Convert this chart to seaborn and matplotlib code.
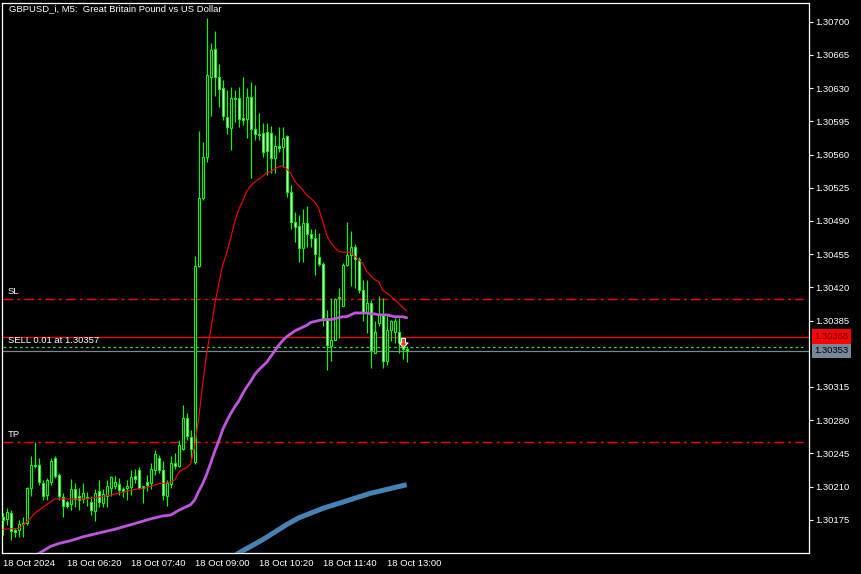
import numpy as np
import pandas as pd
import matplotlib
matplotlib.use("Agg")
import matplotlib.pyplot as plt
from matplotlib.path import Path
import seaborn as sns

# ---------------- data ----------------
opens = [1.30178, 1.30176, 1.30182, 1.30164, 1.30164, 1.30171, 1.30172, 1.30209, 1.30232, 1.30233,
         1.30214, 1.30201, 1.30215, 1.30240, 1.30222, 1.30199, 1.30194, 1.30192, 1.30207, 1.30200,
         1.30197, 1.30199, 1.30194, 1.30184, 1.30205, 1.30193, 1.30200, 1.30209, 1.30211, 1.30213,
         1.30207, 1.30208, 1.30210, 1.30221, 1.30228, 1.30211, 1.30215, 1.30214, 1.30228, 1.30240,
         1.30228, 1.30200, 1.30213, 1.30235, 1.30232, 1.30250, 1.30282, 1.30262, 1.30236, 1.30442,
         1.30514, 1.30557, 1.30642, 1.30671, 1.30642, 1.30630, 1.30600, 1.30588, 1.30620, 1.30620,
         1.30599, 1.30597, 1.30621, 1.30587, 1.30582, 1.30583, 1.30584, 1.30583, 1.30556, 1.30569,
         1.30568, 1.30579, 1.30520, 1.30489, 1.30485, 1.30461, 1.30488, 1.30476, 1.30472, 1.30452,
         1.30445, 1.30388, 1.30358, 1.30365, 1.30409, 1.30400, 1.30444, 1.30454, 1.30462, 1.30450,
         1.30417, 1.30393, 1.30404, 1.30351, 1.30382, 1.30391, 1.30342, 1.30375, 1.30373, 1.30373,
         1.30358, 1.30355]
highs = [1.30182, 1.30187, 1.30185, 1.30166, 1.30175, 1.30178, 1.30210, 1.30242, 1.30257, 1.30240,
         1.30217, 1.30219, 1.30240, 1.30242, 1.30224, 1.30203, 1.30196, 1.30218, 1.30214, 1.30208,
         1.30214, 1.30204, 1.30200, 1.30207, 1.30217, 1.30207, 1.30217, 1.30221, 1.30221, 1.30219,
         1.30210, 1.30217, 1.30228, 1.30229, 1.30231, 1.30211, 1.30222, 1.30235, 1.30249, 1.30243,
         1.30237, 1.30217, 1.30242, 1.30245, 1.30259, 1.30296, 1.30288, 1.30270, 1.30453, 1.30585,
         1.30573, 1.30704, 1.30678, 1.30690, 1.30655, 1.30639, 1.30628, 1.30631, 1.30628, 1.30631,
         1.30642, 1.30630, 1.30636, 1.30633, 1.30604, 1.30593, 1.30593, 1.30590, 1.30581, 1.30589,
         1.30589, 1.30581, 1.30528, 1.30499, 1.30496, 1.30503, 1.30506, 1.30481, 1.30481, 1.30477,
         1.30447, 1.30396, 1.30409, 1.30409, 1.30419, 1.30446, 1.30489, 1.30479, 1.30466, 1.30452,
         1.30428, 1.30428, 1.30407, 1.30384, 1.30411, 1.30409, 1.30391, 1.30386, 1.30388, 1.30388,
         1.30368, 1.30358]
lows = [1.30159, 1.30170, 1.30154, 1.30157, 1.30157, 1.30157, 1.30170, 1.30200, 1.30230, 1.30212,
        1.30196, 1.30196, 1.30212, 1.30219, 1.30196, 1.30178, 1.30187, 1.30185, 1.30189, 1.30185,
        1.30193, 1.30190, 1.30180, 1.30174, 1.30189, 1.30189, 1.30189, 1.30200, 1.30207, 1.30201,
        1.30199, 1.30196, 1.30201, 1.30214, 1.30207, 1.30193, 1.30205, 1.30207, 1.30222, 1.30224,
        1.30196, 1.30190, 1.30208, 1.30229, 1.30231, 1.30249, 1.30259, 1.30240, 1.30234, 1.30441,
        1.30512, 1.30552, 1.30601, 1.30622, 1.30610, 1.30596, 1.30582, 1.30565, 1.30594, 1.30589,
        1.30591, 1.30577, 1.30535, 1.30575, 1.30575, 1.30557, 1.30538, 1.30541, 1.30541, 1.30563,
        1.30547, 1.30515, 1.30481, 1.30468, 1.30447, 1.30447, 1.30463, 1.30463, 1.30433, 1.30442,
        1.30379, 1.30333, 1.30342, 1.30365, 1.30367, 1.30400, 1.30442, 1.30421, 1.30419, 1.30414,
        1.30384, 1.30372, 1.30335, 1.30351, 1.30379, 1.30335, 1.30338, 1.30363, 1.30361, 1.30351,
        1.30344, 1.30341]
closes = [1.30175, 1.30183, 1.30163, 1.30162, 1.30171, 1.30172, 1.30208, 1.30233, 1.30233, 1.30215,
          1.30200, 1.30217, 1.30237, 1.30221, 1.30200, 1.30190, 1.30190, 1.30207, 1.30197, 1.30196,
          1.30203, 1.30198, 1.30185, 1.30203, 1.30194, 1.30202, 1.30211, 1.30220, 1.30215, 1.30206,
          1.30205, 1.30211, 1.30220, 1.30218, 1.30209, 1.30209, 1.30212, 1.30229, 1.30244, 1.30228,
          1.30201, 1.30214, 1.30235, 1.30232, 1.30254, 1.30282, 1.30263, 1.30250, 1.30442, 1.30514,
          1.30557, 1.30644, 1.30670, 1.30642, 1.30629, 1.30601, 1.30589, 1.30620, 1.30619, 1.30597,
          1.30596, 1.30621, 1.30587, 1.30582, 1.30581, 1.30563, 1.30564, 1.30556, 1.30569, 1.30567,
          1.30577, 1.30520, 1.30489, 1.30484, 1.30461, 1.30488, 1.30476, 1.30472, 1.30455, 1.30445,
          1.30388, 1.30359, 1.30365, 1.30408, 1.30410, 1.30444, 1.30454, 1.30462, 1.30450, 1.30417,
          1.30393, 1.30403, 1.30354, 1.30373, 1.30391, 1.30342, 1.30375, 1.30384, 1.30384, 1.30362,
          1.30355, 1.30353]

# moving average (thin red) read at bar indices
ma_red_bar = [0, 4, 5, 7, 8, 10, 12, 13, 16, 21, 24, 27, 30, 33, 36, 39, 41, 42, 43, 44, 45, 46, 47,
              48, 49, 50, 51, 52, 53, 54, 55, 56, 57, 58, 59, 60, 61, 62, 63, 64, 65, 66, 67, 68, 69,
              70, 71, 72, 73, 74, 75, 76, 77, 78, 79, 80, 81, 82, 83, 84, 85, 86, 87, 88, 89, 90, 91,
              92, 93, 94, 95, 96, 97, 98, 99, 100, 101]
ma_red_val = [1.30165, 1.30166, 1.30169, 1.30177, 1.30182, 1.30188, 1.30194, 1.30197, 1.30197, 1.30197,
              1.30199, 1.30201, 1.30204, 1.30207, 1.30209, 1.30213, 1.30214, 1.30215, 1.30217, 1.30225,
              1.30228, 1.30230, 1.30234, 1.30253, 1.30282, 1.30318, 1.30351, 1.30375, 1.30402, 1.30423,
              1.30444, 1.30456, 1.30472, 1.30489, 1.30502, 1.30511, 1.30521, 1.30527, 1.30531, 1.30534,
              1.30537, 1.30541, 1.30542, 1.30545, 1.30547, 1.30548, 1.30545, 1.30540, 1.30532, 1.30527,
              1.30523, 1.30517, 1.30514, 1.30510, 1.30503, 1.30490, 1.30475, 1.30467, 1.30462, 1.30458,
              1.30457, 1.30457, 1.30457, 1.30453, 1.30449, 1.30445, 1.30437, 1.30432, 1.30428, 1.30426,
              1.30417, 1.30414, 1.30411, 1.30407, 1.30403, 1.30399, 1.30395]

# moving average (violet)
ma_violet_bar = [8, 12, 14, 17, 20, 24, 28, 33, 37, 40, 42, 44, 47, 48, 49, 50, 51, 52, 53, 54, 55, 56,
                 57, 58, 59, 60, 61, 62, 63, 64, 65, 66, 67, 68, 69, 70, 71, 72, 73, 74, 75, 76, 77, 78,
                 79, 80, 81, 82, 83, 84, 85, 86, 87, 88, 89, 90, 91, 92, 93, 94, 95, 96, 97, 98, 99, 100, 101]
ma_violet_val = [1.30137, 1.30147, 1.30150, 1.30153, 1.30157, 1.30161, 1.30165, 1.30171, 1.30176, 1.30179,
                 1.30180, 1.30185, 1.30191, 1.30196, 1.30205, 1.30213, 1.30223, 1.30235, 1.30247, 1.30258,
                 1.30270, 1.30279, 1.30287, 1.30294, 1.30300, 1.30308, 1.30315, 1.30321, 1.30328, 1.30333,
                 1.30337, 1.30341, 1.30347, 1.30353, 1.30359, 1.30364, 1.30368, 1.30371, 1.30374, 1.30376,
                 1.30378, 1.30380, 1.30383, 1.30384, 1.30385, 1.30386, 1.30386, 1.30386, 1.30387, 1.30388,
                 1.30389, 1.30389, 1.30391, 1.30393, 1.30393, 1.30393, 1.30393, 1.30392, 1.30392, 1.30391,
                 1.30391, 1.30391, 1.30390, 1.30389, 1.30389, 1.30389, 1.30388]

# moving average (thick blue)
ma_blue_bar = [58, 59, 62, 65, 68, 71, 74, 77, 80, 83, 86, 89, 92, 95, 98, 101]
ma_blue_val = [1.30137, 1.30140, 1.30147, 1.30154, 1.30162, 1.30170, 1.30177, 1.30182, 1.30187, 1.30191,
               1.30195, 1.30199, 1.30203, 1.30206, 1.30209, 1.30212]

sl_price = 1.30408
tp_price = 1.30257
open_price = 1.30357
ask_price = 1.30368
bid_price = 1.30353
entry_bar = 100

y_ticks = [1.30175, 1.30210, 1.30245, 1.30280, 1.30315, 1.30385, 1.30420, 1.30455, 1.30490,
           1.30525, 1.30560, 1.30595, 1.30630, 1.30665, 1.30700]
x_tick_bars = [0, 16, 32, 48, 64, 80, 96]
x_tick_labels = ["18 Oct 2024", "18 Oct 06:20", "18 Oct 07:40", "18 Oct 09:00",
                 "18 Oct 10:20", "18 Oct 11:40", "18 Oct 13:00"]
title = "GBPUSD_i, M5:  Great Britain Pound vs US Dollar"

# ---------------- style ----------------
sns.set_style("dark", rc={"axes.facecolor": "black", "figure.facecolor": "black",
                          "axes.edgecolor": "white", "axes.grid": False})
plt.rcParams["font.family"] = ["Liberation Sans", "DejaVu Sans"]
FS = 6.8
GREEN = "#00ff00"

W, H = 862, 574
fig = plt.figure(figsize=(W / 100, H / 100), dpi=100)
ax = fig.add_axes([2.5 / W, 21 / H, (809.3 - 2.5) / W, (553 - 2.7) / H])
ax.set_facecolor("black")

df = pd.DataFrame({"open": opens, "high": highs, "low": lows, "close": closes})
df["bar"] = np.arange(len(df))
bull = df["close"] >= df["open"]

# wicks
ax.vlines(df["bar"], df["low"], df["high"], color=GREEN, lw=0.85, zorder=2)
# bodies
body_bottom = np.minimum(df["open"], df["close"])
body_h = np.maximum((df["close"] - df["open"]).abs(), 0.000004)
ax.bar(df["bar"], body_h, bottom=body_bottom, width=0.55,
       color=np.where(bull, "black", "white"), edgecolor=GREEN, linewidth=0.8, zorder=3)

# moving averages
sns.lineplot(x=ma_red_bar, y=ma_red_val, ax=ax, color="#ff0000", lw=0.8,
             estimator=None, sort=False, zorder=4)
sns.lineplot(x=ma_violet_bar, y=ma_violet_val, ax=ax, color="#c055dd", lw=2.0,
             estimator=None, sort=False, zorder=4)
sns.lineplot(x=ma_blue_bar, y=ma_blue_val, ax=ax, color="#4682b4", lw=3.6,
             estimator=None, sort=False, zorder=4, solid_capstyle="butt")

xmax = 201.65
# SL / TP
for p, lab in [(sl_price, "SL"), (tp_price, "TP")]:
    ax.plot([0, 200.1], [p, p], color="#ff0000", lw=1.0, dashes=(7, 3, 2, 3), zorder=1)
    ax.annotate(lab, (1.3, p), xytext=(0, 2.2), textcoords="offset points",
                color="white", fontsize=FS, va="bottom", ha="left")
# ask / bid / open position
ax.axhline(ask_price, color="#ff0000", lw=0.9, zorder=1)
ax.axhline(bid_price, color="#778899", lw=0.9, zorder=1)
ax.plot([0, 200.1], [open_price, open_price], color="#3ccf3c", lw=0.9, dashes=(2.2, 2.2), zorder=1)
ax.annotate("SELL 0.01 at 1.30357", (1.3, open_price), xytext=(0, 1.2), textcoords="offset points",
            color="white", fontsize=FS, va="bottom", ha="left")

# sell arrow (tip at entry price)
arrow = Path([(0, 0), (4.5, 4.5), (2, 4.5), (2, 9), (-2, 9), (-2, 4.5), (-4.5, 4.5), (0, 0)],
             [Path.MOVETO] + [Path.LINETO] * 6 + [Path.CLOSEPOLY])
ax.plot([entry_bar], [open_price], marker=arrow, markersize=13, color="#ff3a1f",
        markeredgecolor="white", markeredgewidth=0.8, zorder=6, linestyle="none")

# axes
ax.set_xlim(-0.05, xmax)
ax.set_ylim(1.30140, 1.30720)
ax.yaxis.tick_right()
ax.set_yticks(y_ticks)
ax.set_yticklabels([f"{v:.5f}" for v in y_ticks])
ax.set_xticks(x_tick_bars)
ax.set_xticklabels(x_tick_labels, ha="left")
ax.tick_params(axis="y", colors="white", labelcolor="white", length=3, width=0.8,
               pad=1.2, labelsize=FS, direction="out", right=True, left=False)
ax.tick_params(axis="x", colors="white", labelcolor="white", length=3, width=0.8,
               pad=1.5, labelsize=FS, direction="out")
ax.set_xlabel("")
ax.set_ylabel("")
for s in ax.spines.values():
    s.set_color("white")
    s.set_linewidth(0.9)
    s.set_visible(True)

# price tags
ytr = ax.get_yaxis_transform()
ax.text(1.0064, ask_price, "1.30368", transform=ytr, color="#5a0000", fontsize=FS,
        va="center", ha="left", zorder=10,
        bbox=dict(boxstyle="square,pad=0.3", fc="#ff0000", ec="none"))
ax.text(1.0064, bid_price, "1.30353", transform=ytr, color="black", fontsize=FS,
        va="center", ha="left", zorder=10,
        bbox=dict(boxstyle="square,pad=0.3", fc="#778899", ec="none"))

# title
ax.text(7 / (809.3 - 2.5), 1 - 6.5 / (553 - 2.7), title, transform=ax.transAxes,
        color="white", fontsize=FS, va="center", ha="left")

fig.savefig("out.png", dpi=100, facecolor="black")
